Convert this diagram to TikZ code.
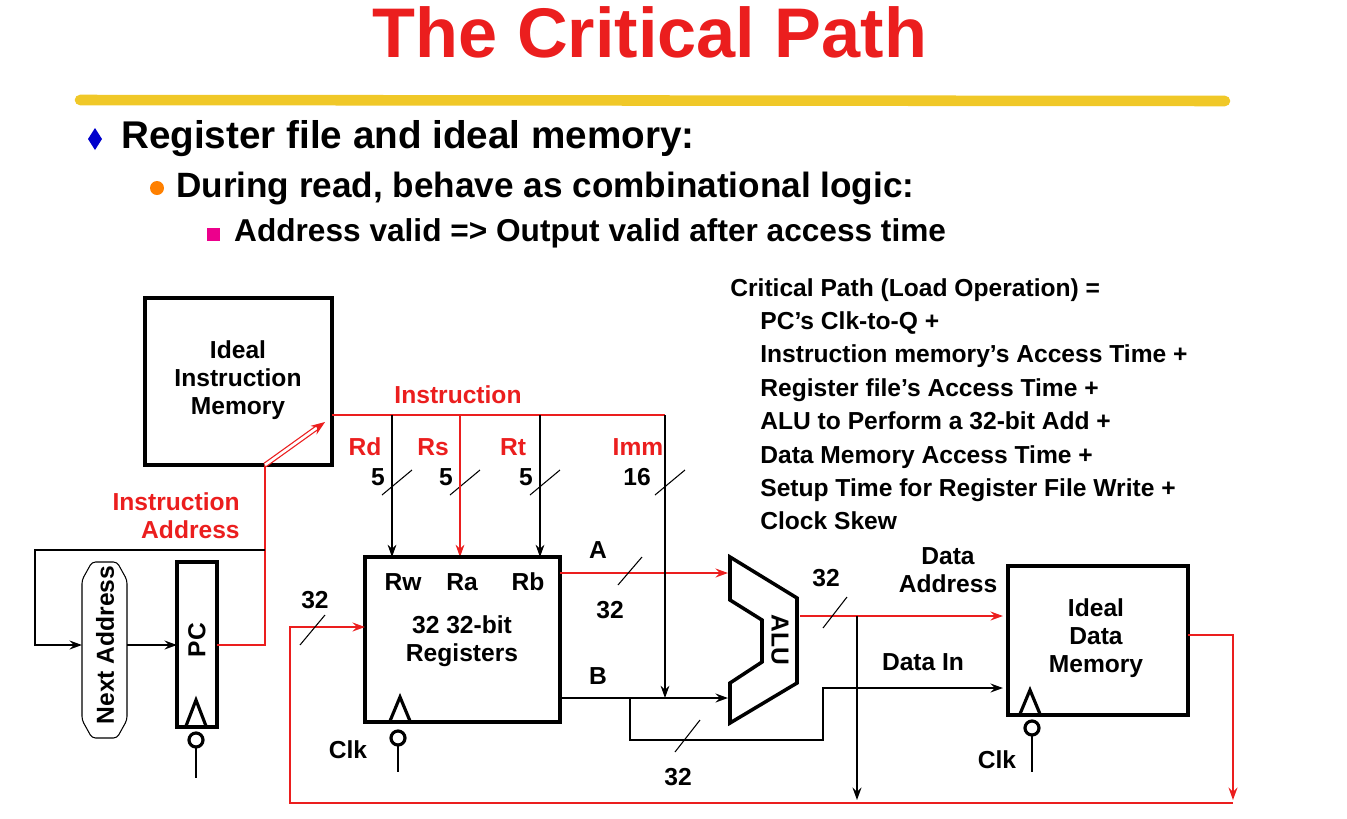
\documentclass[tikz,border=0pt]{standalone}
\usepackage{fontspec}
\setmainfont{Liberation Sans}
\usepackage{tikz}
\usetikzlibrary{positioning,arrows.meta}
\definecolor{slidered}{RGB}{235,30,30}
\definecolor{brush}{RGB}{240,200,40}

\begin{document}
\begin{tikzpicture}[x=0.02cm, y=-0.02cm,
    lbl/.style={font=\fontsize{14}{16}\selectfont\bfseries},
    rlbl/.style={lbl, text=slidered},
    blk/.style={draw, line width=2.6pt},
    bus/.style={line width=1.4pt},
    rbus/.style={line width=1.4pt, slidered},
    thin/.style={line width=0.6pt},
    arr/.style={-{Stealth[length=7pt,width=5pt]}}]
  \useasboundingbox (0,0) rectangle (1347,819);

  % Title and bullets
  \node[text=slidered, font=\fontsize{40}{44}\selectfont\bfseries] (title) at (650,32) {The Critical Path};
  \draw[brush, line width=6pt, line cap=round] (80,100) -- (1225,101);
  \fill[blue!80!black] (95,128) -- (102,139) -- (95,150) -- (88,139) -- cycle;
  \node[anchor=west, font=\fontsize{22}{24}\selectfont\bfseries] (t1) at (115,139) {Register file and ideal memory:};
  \fill[orange] (157,188) circle (7);
  \node[anchor=west, font=\fontsize{20}{22}\selectfont\bfseries] (t2) at (170,188) {During read, behave as combinational logic:};
  \fill[magenta] (207,228) rectangle (220,241);
  \node[anchor=west, font=\fontsize{18}{20}\selectfont\bfseries] (t3) at (228,233) {Address valid => Output valid after access time};

  % Critical path list
  \node[lbl, anchor=north west, align=left, inner sep=0pt] (crit) at (730,278)
    {Critical Path (Load Operation) =\\[3pt]
     \hspace{0.6cm}PC's Clk-to-Q +\\[3pt]
     \hspace{0.6cm}Instruction memory's Access Time +\\[3pt]
     \hspace{0.6cm}Register file's Access Time +\\[3pt]
     \hspace{0.6cm}ALU to Perform a 32-bit Add +\\[3pt]
     \hspace{0.6cm}Data Memory Access Time +\\[3pt]
     \hspace{0.6cm}Setup Time for Register File Write +\\[3pt]
     \hspace{0.6cm}Clock Skew};

  % Instruction memory
  \draw[blk] (145,298) rectangle (332,465);
  \node[lbl, align=center] (imem) at (238,380) {Ideal\\Instruction\\Memory};

  % Next address and PC
  \draw[thin, rounded corners=2pt] (92,562) -- (117,562) -- (127,580) -- (127,720) -- (117,738)
    -- (92,738) -- (82,720) -- (82,580) -- cycle;
  \node[lbl, rotate=90] (nxt) at (105,645) {Next Address};
  \draw[blk] (177,562) rectangle (217,727);
  \node[lbl, rotate=90] (pc) at (197,640) {PC};
  \draw[line width=1.8pt] (186,726) -- (196,700) -- (206,726);
  \draw[line width=1.8pt] (196,740) circle (7);
  \draw[line width=1.4pt] (196,747) -- (196,778);

  \coordinate (pcout) at (217,645);
  \coordinate (iaddr) at (265,550);
  \draw[rbus] (pcout) -- (265,645) -- (iaddr) -- (265,465);
  \draw[slidered, double, double distance=1.5pt, line width=0.7pt, -{Stealth[length=8pt]}] (265,465) -- (325,422);
  \draw[bus, arr] (iaddr) -- (35,550) -- (35,645) -- (82,645);
  \draw[bus, arr] (127,645) -- (177,645);
  \node[rlbl, align=right] (ialbl) at (172,516) {Instruction\\\hspace*{1.5em}Address};

  % Instruction bus
  \draw[slidered, thin] (332,415) -- (665,415);
  \node[rlbl] (ilbl) at (458,395) {Instruction};
  \foreach \x/\n/\w in {392/Rd/5, 460/Rs/5, 540/Rt/5} {
    \node[rlbl] at (\x-27,447) {\n};
    \node[lbl] at (\x-14,477) {\w};
    \draw[thin] (\x-10,495) -- (\x+20,470);
  }
  \draw[thin, arr] (392,415) -- (392,557);
  \draw[slidered, thin, arr] (460,415) -- (460,557);
  \draw[thin, arr] (540,415) -- (540,557);
  \node[rlbl] (imm) at (638,447) {Imm};
  \node[lbl] (n16) at (637,477) {16};
  \draw[thin] (655,495) -- (685,470);

  % Register file
  \draw[blk] (365,557) rectangle (560,722);
  \node[lbl] (rw) at (403,582) {Rw};
  \node[lbl] (ra) at (462,582) {Ra};
  \node[lbl] (rb) at (528,582) {Rb};
  \node[lbl, align=center] (regs) at (462,641) {32 32-bit\\Registers};
  \draw[line width=1.8pt] (390,721) -- (400,697) -- (410,721);
  \draw[line width=1.8pt] (398,738) circle (7);
  \draw[line width=1.4pt] (398,745) -- (398,772);
  \node[lbl] (clk1) at (348,750) {Clk};

  % A, B buses
  \draw[rbus, arr] (560,573) -- (728,573);
  \node[lbl] (alab) at (598,550) {A};
  \draw[thin] (618,585) -- (642,557);
  \node[lbl] (a32) at (610,610) {32};
  \draw[bus, arr] (560,698) -- (728,698);
  \node[lbl] (blab) at (598,676) {B};
  \draw[thin, arr] (665,415) -- (665,698);
  \draw[bus, arr] (630,698) -- (630,740) -- (823,740) -- (823,688) -- (1003,688);
  \draw[thin] (675,752) -- (700,720);
  \node[lbl] (b32) at (678,777) {32};

  % ALU
  \draw[line width=2pt] (730,557) -- (797,598) -- (797,683) -- (730,723) -- (730,683)
    -- (762,662) -- (762,620) -- (730,600) -- cycle;
  \node[lbl, rotate=-90] (alu) at (780,640) {ALU};

  % ALU output
  \coordinate (jn) at (857,616);
  \draw[rbus, arr] (800,616) -- (1003,616);
  \draw[thin] (823,628) -- (847,597);
  \node[lbl] (o32) at (826,578) {32};
  \draw[bus, arr] (jn) -- (857,800);
  \node[lbl, align=center] (dalbl) at (948,570) {Data\\Address};
  \node[lbl] (dinlbl) at (923,662) {Data In};

  % Data memory
  \draw[blk] (1008,566) rectangle (1188,715);
  \node[lbl, align=center] (dmem) at (1096,638) {Ideal\\Data\\Memory};
  \draw[line width=1.8pt] (1020,714) -- (1030,690) -- (1040,714);
  \draw[line width=1.8pt] (1032,728) circle (7);
  \draw[line width=1.4pt] (1032,735) -- (1032,772);
  \node[lbl] (clk2) at (997,760) {Clk};

  % Write back
  \draw[rbus, arr] (1188,635) -- (1233,635) -- (1233,800);
  \draw[rbus, arr] (1233,803) -- (290,803) -- (290,627) -- (365,627);
  \draw[thin] (300,645) -- (325,615);
  \node[lbl] (w32) at (315,600) {32};
\end{tikzpicture}
\end{document}
